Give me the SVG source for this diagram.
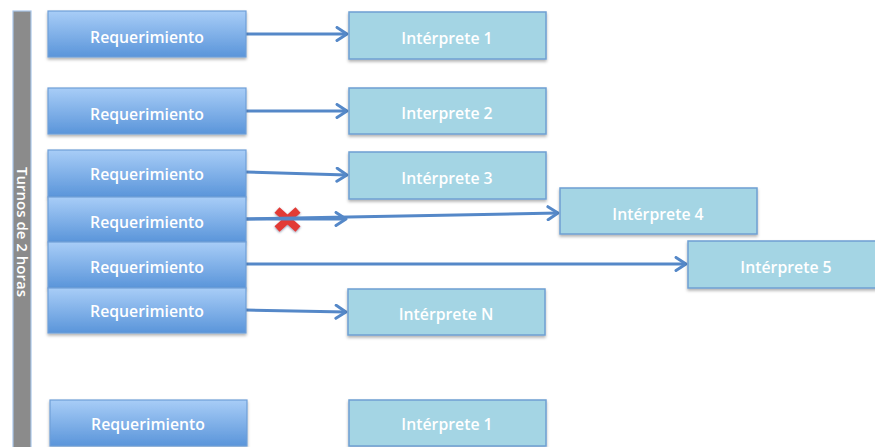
<svg xmlns="http://www.w3.org/2000/svg" width="875" height="447" viewBox="0 0 875 447">
  <defs>
    <linearGradient id="reqFill" x1="0" y1="0" x2="0" y2="1">
      <stop offset="0" stop-color="#a8cdf7"/>
      <stop offset="1" stop-color="#5a95da"/>
    </linearGradient>
    <filter id="shadow" x="-5%" y="-10%" width="110%" height="130%">
      <feDropShadow dx="0" dy="2" stdDeviation="1.5" flood-color="#000" flood-opacity="0.3"/>
    </filter>
    <filter id="x-shadow" x="-30%" y="-30%" width="160%" height="160%">
      <feDropShadow dx="0" dy="1" stdDeviation="1.2" flood-color="#2a3f66" flood-opacity="0.55"/>
    </filter>
    <marker id="open-arrow" viewBox="0 0 14 16" refX="12" refY="8" markerWidth="14" markerHeight="16" orient="auto" markerUnits="userSpaceOnUse">
      <path d="M2,1.5 L12,8 L2,14.5" fill="none" stroke="#5588c8" stroke-width="3" stroke-linecap="round" stroke-linejoin="round"/>
    </marker>
  </defs>
  <style>
    .req rect { fill: url(#reqFill); stroke: #6f9fd8; stroke-width: 1.2; filter: url(#shadow); }
    .int rect { fill: #a4d5e4; stroke: #6e9fd2; stroke-width: 1.5; filter: url(#shadow); }
    text { font-family: "Open Sans", "Liberation Sans", sans-serif; font-weight: 600; fill: #ffffff; text-anchor: middle; }
    .lbl { font-size: 15.8px; }
    .bar-lbl { font-size: 15px; font-weight: 600; }
    .conn line { stroke: #5588c8; stroke-width: 3; marker-end: url(#open-arrow); }
  </style>

  <rect width="875" height="447" fill="#ffffff"/>

  <!-- shift bar -->
  <g id="shift-bar">
    <rect x="13" y="11" width="18" height="445" fill="#8b8b8b" stroke="#a9c6ea" stroke-width="1.2"/>
    <text class="bar-lbl" transform="translate(22 232) rotate(90)" y="5">Turnos de 2 horas</text>
  </g>

  <!-- rejected route marker, sits under the connector line -->
  <g id="rejected" filter="url(#x-shadow)">
    <path d="M277,210 L298,229 M298,210 L277,229" stroke="#e23b35" stroke-width="7.5" stroke-linecap="butt"/>
  </g>

  <!-- connectors -->
  <g id="connectors" class="conn">
    <line x1="246" y1="34" x2="347" y2="34"/>
    <line x1="246" y1="111" x2="347" y2="111"/>
    <line x1="246" y1="172" x2="347" y2="175"/>
    <line x1="246" y1="219" x2="346" y2="219"/>
    <line x1="246" y1="219" x2="558" y2="213"/>
    <line x1="246" y1="264" x2="686" y2="264"/>
    <line x1="246" y1="310" x2="346" y2="312"/>
  </g>

  <!-- requests -->
  <g id="req-1" class="req"><rect x="48" y="11" width="198" height="46"/><text class="lbl" x="147" y="43">Requerimiento</text></g>
  <g id="req-2" class="req"><rect x="48" y="88" width="198" height="46"/><text class="lbl" x="147" y="120">Requerimiento</text></g>
  <g id="req-3" class="req"><rect x="48" y="150" width="198" height="47"/><text class="lbl" x="147" y="180">Requerimiento</text></g>
  <g id="req-4" class="req"><rect x="48" y="197" width="198" height="45"/><text class="lbl" x="147" y="228">Requerimiento</text></g>
  <g id="req-5" class="req"><rect x="48" y="242" width="198" height="46"/><text class="lbl" x="147" y="273">Requerimiento</text></g>
  <g id="req-6" class="req"><rect x="48" y="288" width="198" height="45"/><text class="lbl" x="147" y="317">Requerimiento</text></g>
  <g id="req-7" class="req"><rect x="50" y="400" width="197" height="46"/><text class="lbl" x="148" y="430">Requerimiento</text></g>

  <!-- interpreters -->
  <g id="int-1" class="int"><rect x="349" y="12" width="197" height="47"/><text class="lbl" x="447" y="44">Intérprete 1</text></g>
  <g id="int-2" class="int"><rect x="349" y="88" width="197" height="46"/><text class="lbl" x="447" y="119">Interprete 2</text></g>
  <g id="int-3" class="int"><rect x="349" y="152" width="197" height="47"/><text class="lbl" x="447" y="184">Intérprete 3</text></g>
  <g id="int-4" class="int"><rect x="560" y="188" width="197" height="46"/><text class="lbl" x="658" y="220">Intérprete 4</text></g>
  <g id="int-5" class="int"><rect x="688" y="241" width="197" height="47"/><text class="lbl" x="786" y="273">Intérprete 5</text></g>
  <g id="int-n" class="int"><rect x="348" y="289" width="197" height="46"/><text class="lbl" x="446" y="320">Intérprete N</text></g>
  <g id="int-1b" class="int"><rect x="349" y="400" width="197" height="46"/><text class="lbl" x="447" y="430">Intérprete 1</text></g>
</svg>
